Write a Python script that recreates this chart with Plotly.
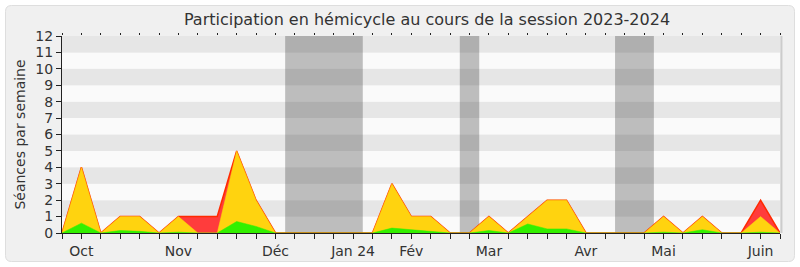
import plotly.graph_objects as go

weeks = list(range(38))
total = [0, 4, 0, 1, 1, 0, 1, 1, 1, 5, 2, 0, 0, 0, 0, 0, 0, 3, 1, 1, 0, 0, 1, 0, 1, 2, 2, 0, 0, 0, 0, 1, 0, 1, 0, 0, 2, 0]
present = [0, 4, 0, 1, 1, 0, 1, 0, 0, 5, 2, 0, 0, 0, 0, 0, 0, 3, 1, 1, 0, 0, 1, 0, 1, 2, 2, 0, 0, 0, 0, 1, 0, 1, 0, 0, 1, 0]
active = [0, 0.6, 0, 0.15, 0.1, 0, 0.05, 0, 0, 0.7, 0.4, 0, 0, 0, 0, 0, 0, 0.3, 0.2, 0.1, 0, 0, 0.15, 0, 0.55, 0.25, 0.25, 0, 0, 0, 0, 0.05, 0, 0.2, 0, 0, 0.05, 0]
month_weeks = [1, 6, 11, 15, 18, 22, 27, 31, 36]
month_labels = ["Oct", "Nov", "Déc", "Jan 24", "Fév", "Mar", "Avr", "Mai", "Juin"]
vacations = [(11.5, 15.5), (20.5, 21.5), (28.5, 30.5)]
ymax = 12

FONT = "DejaVu Sans"
TXT = "#333333"

fig = go.Figure()
fig.add_trace(go.Scatter(x=weeks, y=total, mode="lines", fill="tozeroy",
                         fillcolor="#ff3c3c", line=dict(color="#ff2a00", width=1.5),
                         hoverinfo="skip", showlegend=False))
fig.add_trace(go.Scatter(x=weeks, y=present, mode="lines", fill="tozeroy",
                         fillcolor="#ffd30f", line=dict(color="#ffd30f", width=0.5),
                         hoverinfo="skip", showlegend=False))
fig.add_trace(go.Scatter(x=weeks, y=active, mode="lines", fill="tozeroy",
                         fillcolor="#33f000", line=dict(color="#33f000", width=0.5),
                         hoverinfo="skip", showlegend=False))
# invisible trace for top axis
fig.add_trace(go.Scatter(x=[0], y=[0], xaxis="x2", mode="markers",
                         marker=dict(opacity=0), hoverinfo="skip", showlegend=False))

# plot area pixels
L, R, T, B = 62, 780, 36, 233
W, H = 800, 267

def px(x):
    return (x - L) / (R - L)

def py(y):
    return (B - y) / (B - T)

shapes = []
# rounded outer frame
x0, x1, y0, y1, r = 5.5, 794.5, 5.5, 261.5, 6
path = (f"M {px(x0 + r)},{py(y0)} L {px(x1 - r)},{py(y0)} "
        f"Q {px(x1)},{py(y0)} {px(x1)},{py(y0 + r)} L {px(x1)},{py(y1 - r)} "
        f"Q {px(x1)},{py(y1)} {px(x1 - r)},{py(y1)} L {px(x0 + r)},{py(y1)} "
        f"Q {px(x0)},{py(y1)} {px(x0)},{py(y1 - r)} L {px(x0)},{py(y0 + r)} "
        f"Q {px(x0)},{py(y0)} {px(x0 + r)},{py(y0)} Z")
shapes.append(dict(type="path", path=path, xref="paper", yref="paper",
                   fillcolor="#f0f0f0", line=dict(color="#dedede", width=1), layer="below"))
# stripes
for k in range(ymax):
    shapes.append(dict(type="rect", xref="x", yref="y", x0=0, x1=37, y0=k, y1=k + 1,
                       fillcolor="#e6e6e6" if k % 2 == 1 else "#fafafa",
                       line=dict(width=0), layer="below"))
# vacation bands
for a, b in vacations:
    shapes.append(dict(type="rect", xref="x", yref="y", x0=a, x1=b, y0=0, y1=ymax,
                       fillcolor="rgba(50,50,50,0.3)", line=dict(width=0), layer="below"))
# right border
shapes.append(dict(type="line", xref="paper", yref="paper", x0=1.002, x1=1.002, y0=0, y1=1,
                   line=dict(color="#cccccc", width=2)))

ticktext = [month_labels[month_weeks.index(w)] if w in month_weeks else "" for w in weeks]

fig.update_layout(
    width=W, height=H,
    margin=dict(l=L, r=W - R, t=T, b=H - B, autoexpand=False),
    paper_bgcolor="white", plot_bgcolor="#fafafa",
    font=dict(family=FONT, size=14, color=TXT),
    title=dict(text="Participation en hémicycle au cours de la session 2023-2024",
               x=427 / W, xanchor="center", y=1 - 19 / H, yanchor="middle",
               font=dict(family=FONT, size=16, color=TXT)),
    shapes=shapes,
    xaxis=dict(range=[0, 37], tickvals=weeks, ticktext=ticktext, ticks="outside",
               ticklen=5, tickcolor="#222", showgrid=False, zeroline=False,
               showline=True, linecolor="#222", linewidth=1, automargin=False,
               tickfont=dict(size=14, color=TXT)),
    xaxis2=dict(range=[0, 37], overlaying="x", side="top", tickvals=weeks,
                ticks="outside", ticklen=2, tickcolor="#222", showticklabels=False,
                showgrid=False, zeroline=False, showline=False, automargin=False),
    yaxis=dict(range=[0, ymax], dtick=1, ticks="outside", ticklen=5, tickcolor="#222",
               showgrid=False, zeroline=False, showline=True, linecolor="#222",
               automargin=False,
               tickfont=dict(size=14, color=TXT),
               title=dict(text="Séances par semaine", font=dict(size=14, color=TXT),
                          standoff=6)),
)

fig.write_html("out.html")
